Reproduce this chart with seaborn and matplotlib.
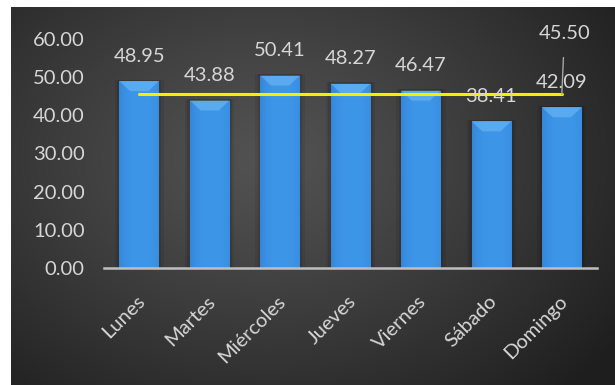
import numpy as np
import pandas as pd
import matplotlib
matplotlib.use("Agg")
import matplotlib.pyplot as plt
import matplotlib.transforms as mtransforms
from matplotlib.patches import Polygon, Rectangle
import seaborn as sns

# Average values per weekday
dias = ["Lunes", "Martes", "Miércoles", "Jueves", "Viernes", "Sábado", "Domingo"]
valores = [48.95, 43.88, 50.41, 48.27, 46.47, 38.41, 42.09]
promedio = [45.50] * len(dias)
yticks = [0, 10, 20, 30, 40, 50, 60]

df = pd.DataFrame({"dia": dias, "valor": valores, "promedio": promedio})

sns.set_style("white")
plt.rcParams["font.family"] = ["Lato", "DejaVu Sans"]
plt.rcParams["font.weight"] = "normal"
TXT = "#d6d6d6"

fig = plt.figure(figsize=(6.15, 3.85), dpi=100, facecolor="white")

# dark radial-gradient backdrop
bg = fig.add_axes([11 / 615, 0, 1 - 11 / 615, 1 - 7 / 385], zorder=0)
h, w = 378, 604
yy, xx = np.mgrid[0:h, 0:w]
cx, cy = w * 0.42, h * 0.40
r = np.sqrt(((xx - cx) / (w * 0.72)) ** 2 + ((yy - cy) / (h * 0.85)) ** 2)
r = np.clip(r, 0, 1) ** 1.2
light = np.array([0x52, 0x52, 0x52]) / 255
dark = np.array([0x1e, 0x1e, 0x1e]) / 255
img = light[None, None, :] * (1 - r[..., None]) + dark[None, None, :] * r[..., None]
bg.imshow(img, aspect="auto", extent=(0, 1, 0, 1), origin="upper")
bg.set_axis_off()

ax = fig.add_axes([104 / 615, 117 / 385, 493 / 615, 229 / 385], zorder=1)
ax.patch.set_alpha(0)

sns.barplot(data=df, x="dia", y="valor", color="#3a8fe2", width=0.56,
            saturation=1, ax=ax, zorder=3, edgecolor="none")

# shading, bevel and shadow on each bar
for p in list(ax.patches):
    x0, wdt, hgt = p.get_x(), p.get_width(), p.get_height()
    # soft shadow behind the bar
    for k, a in [(0.07, 0.07), (0.035, 0.10)]:
        ax.add_patch(Rectangle((x0 - k, 0), wdt + 2 * k, hgt + 0.4, color="black",
                               alpha=a, zorder=2, lw=0))
    # horizontal shading across the bar
    grad = np.linspace(0, 1, 64)
    shade = 1 - 0.5 * (np.abs(grad - 0.55) * 2) ** 3
    cols = np.array([0x2e, 0x7e, 0xd0]) / 255 * (1 - shade[:, None]) + \
        np.array([0x3e, 0x96, 0xe8]) / 255 * shade[:, None]
    im = ax.imshow(cols[None, :, :], aspect="auto",
                   extent=(x0, x0 + wdt, 0, hgt), zorder=3.5, interpolation="bilinear")
    im.set_clip_path(p)
    # bevelled top
    ins = wdt * 0.27
    bh = 2.6
    ax.add_patch(Polygon([(x0, hgt), (x0 + wdt, hgt), (x0 + wdt - ins, hgt - bh),
                          (x0 + ins, hgt - bh)], closed=True,
                         facecolor="#72bdf7", edgecolor="none", alpha=0.55, zorder=4))
    # value label
    ax.annotate(f"{hgt:.2f}", (x0 + wdt / 2, hgt), xytext=(0, 18),
                textcoords="offset points", ha="center", va="center",
                color=TXT, fontsize=14.5, zorder=6)

# average line
sns.lineplot(data=df, x="dia", y="promedio", color="#f2f200", linewidth=2.2,
             ax=ax, zorder=5)
ax.annotate(f"{promedio[-1]:.2f}", (len(dias) - 1, promedio[-1]), xytext=(2, 44),
            textcoords="offset points", ha="center", va="center", color=TXT,
            fontsize=14.5, zorder=6,
            arrowprops=dict(arrowstyle="-", color="#a6a6a6", lw=1.0,
                            shrinkA=9, shrinkB=0))

ax.set_xlim(-0.5, len(dias) - 0.5)
ax.set_ylim(0, 60)
ax.set_yticks(yticks)
ax.set_yticklabels([f"{v:.2f}" for v in yticks])
ax.set_xlabel("")
ax.set_ylabel("")
ax.tick_params(axis="y", length=0, pad=14, labelcolor=TXT, labelsize=14.5)
ax.tick_params(axis="x", length=0, pad=22, labelcolor=TXT, labelsize=14.5)
for lab in ax.get_xticklabels():
    lab.set_rotation(45)
    lab.set_ha("right")
    lab.set_va("center")
    lab.set_rotation_mode("anchor")
    lab.set_transform(lab.get_transform() +
                      mtransforms.ScaledTranslation(3 / 100, 0, fig.dpi_scale_trans))

for s in ["top", "right", "left"]:
    ax.spines[s].set_visible(False)
ax.spines["bottom"].set_color("#bfbfbf")
ax.spines["bottom"].set_linewidth(1.8)
ax.spines["bottom"].set_zorder(6)
ax.grid(False)

fig.savefig("out.png", dpi=100, facecolor="white")
